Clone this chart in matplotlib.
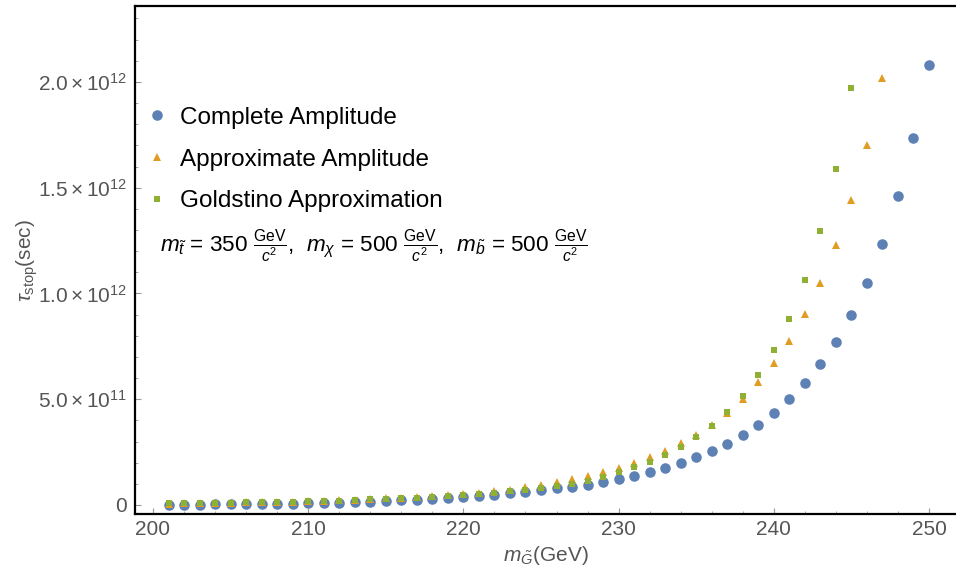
import numpy as np
import matplotlib
matplotlib.use("Agg")
import matplotlib.pyplot as plt
from matplotlib.ticker import MultipleLocator

plt.rcParams["font.family"] = ["Liberation Sans", "DejaVu Sans"]
plt.rcParams["mathtext.fontset"] = "custom"
plt.rcParams["mathtext.rm"] = "Liberation Sans"
plt.rcParams["mathtext.it"] = "Liberation Sans:italic"
plt.rcParams["mathtext.bf"] = "Liberation Sans:bold"

# gravitino mass (GeV)
m_gravitino = np.arange(201, 251)

# stop lifetime in units of 1e12 s
tau_complete = [
    0.001, 0.0015, 0.002, 0.0025, 0.003, 0.004, 0.005, 0.006, 0.007, 0.008,
    0.010, 0.011, 0.013, 0.016, 0.019, 0.022, 0.025, 0.029, 0.033, 0.038,
    0.043, 0.049, 0.055, 0.062, 0.069, 0.078, 0.087, 0.096, 0.107, 0.121,
    0.137, 0.155, 0.175, 0.197, 0.226, 0.255, 0.290, 0.331, 0.378, 0.434,
    0.499, 0.575, 0.667, 0.772, 0.898, 1.051, 1.235, 1.462, 1.737, 2.079,
]
tau_approx = [
    0.007, 0.008, 0.009, 0.010, 0.011, 0.012, 0.013, 0.015, 0.016, 0.018,
    0.020, 0.022, 0.025, 0.028, 0.031, 0.034, 0.037, 0.041, 0.046, 0.051,
    0.057, 0.065, 0.073, 0.083, 0.094, 0.107, 0.121, 0.138, 0.157, 0.176,
    0.197, 0.225, 0.257, 0.292, 0.331, 0.378, 0.436, 0.501, 0.580, 0.673,
    0.777, 0.902, 1.051, 1.229, 1.442, 1.702, 2.017,
]
tau_goldstino = [
    0.008, 0.008, 0.009, 0.010, 0.011, 0.012, 0.013, 0.014, 0.015, 0.017,
    0.019, 0.021, 0.023, 0.026, 0.030, 0.032, 0.035, 0.038, 0.043, 0.046,
    0.051, 0.057, 0.065, 0.072, 0.080, 0.090, 0.099, 0.113, 0.134, 0.156,
    0.178, 0.205, 0.238, 0.276, 0.321, 0.375, 0.438, 0.517, 0.613, 0.733,
    0.879, 1.062, 1.296, 1.590, 1.973,
]

y_ticks = [0.0, 0.5e12, 1.0e12, 1.5e12, 2.0e12]
y_tick_labels = ["0", r"$5.0\times10^{11}$", r"$1.0\times10^{12}$",
                 r"$1.5\times10^{12}$", r"$2.0\times10^{12}$"]

BLUE = "#5E81B5"
ORANGE = "#E19C24"
GREEN = "#8FB032"
GRAY = "#555555"

fig = plt.figure(figsize=(9.56, 5.81), dpi=100)
ax = fig.add_axes([0.1412, 0.1153, 0.8588, 0.8744])

ax.plot(m_gravitino, np.array(tau_complete) * 1e12, "o", color=BLUE,
        ms=7.6, mew=0, label="Complete Amplitude")
ax.plot(m_gravitino[:len(tau_approx)], np.array(tau_approx) * 1e12, "^",
        color=ORANGE, ms=6.3, mew=0, label="Approximate Amplitude")
ax.plot(m_gravitino[:len(tau_goldstino)], np.array(tau_goldstino) * 1e12, "s",
        color=GREEN, ms=4.4, mew=0, label="Goldstino Approximation")

ax.set_xlim(198.84, 251.74)
ax.set_ylim(-0.0426e12, 2.359e12)

ax.set_xticks([200, 210, 220, 230, 240, 250])
ax.xaxis.set_minor_locator(MultipleLocator(2))
ax.set_yticks(y_ticks)
ax.set_yticklabels(y_tick_labels)
ax.yaxis.set_minor_locator(MultipleLocator(1e11))

ax.tick_params(which="both", direction="in", colors="#999999",
               labelcolor=GRAY, labelsize=15)
ax.tick_params(which="major", length=4, width=0.8, pad=4)
ax.tick_params(which="minor", length=2, width=0.6)
ax.tick_params(axis="y", which="major", pad=6)

for side in ["left", "top", "bottom"]:
    ax.spines[side].set_linewidth(1.6)
    ax.spines[side].set_color("black")
ax.spines["right"].set_visible(False)

ax.set_xlabel(r"$m_{\tilde{G}}$(GeV)", fontsize=15, color=GRAY, labelpad=4)
ax.set_ylabel(r"$\tau_{\mathrm{stop}}$(sec)", fontsize=15, color=GRAY,
              labelpad=-2)

ax.legend(loc="upper left", bbox_to_anchor=(0.012, 0.802), frameon=False,
          fontsize=17.5, handlelength=1.0, handletextpad=0.45,
          labelspacing=0.82, borderpad=0, borderaxespad=0)

ax.text(0.03, 0.527,
        r"$m_{\tilde{t}}$ = 350 $\frac{\mathrm{GeV}}{c^2}$,  "
        r"$m_{\chi}$ = 500 $\frac{\mathrm{GeV}}{c^2}$,  "
        r"$m_{\tilde{b}}$ = 500 $\frac{\mathrm{GeV}}{c^2}$",
        transform=ax.transAxes, fontsize=16.2, va="center", ha="left")

fig.savefig("out.png", dpi=100)
